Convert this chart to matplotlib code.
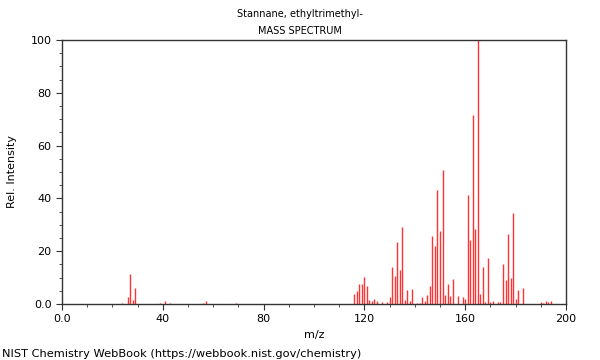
import matplotlib
matplotlib.use("Agg")
import matplotlib.pyplot as plt
from matplotlib.ticker import MultipleLocator, FuncFormatter

# peak list (m/z, relative intensity)
mz = [24, 26, 27, 28, 29, 39, 41, 43, 56, 57, 69,
      116, 117, 118, 119, 120, 121, 122, 123, 124, 125, 127, 129, 130,
      131, 132, 133, 134, 135, 136, 137, 138, 139, 141, 142, 143, 144,
      145, 146, 147, 148, 149, 150, 151, 152, 153, 154, 155, 157, 159,
      160, 161, 162, 163, 164, 165, 166, 167, 168, 169, 170, 171, 173,
      174, 175, 176, 177, 178, 179, 180, 181, 183, 190, 191, 192, 193, 194]
intensity = [0.3, 2.8, 11.2, 1.6, 6.0, 0.5, 1.0, 0.3, 0.3, 1.3, 0.5,
             3.7, 4.9, 7.7, 7.5, 10.2, 6.7, 1.5, 1.2, 1.7, 1.3, 0.8, 0.8, 2.8,
             14.1, 10.6, 23.5, 13.0, 29.3, 1.5, 5.3, 1.0, 5.6, 0.5, 0.5, 2.5, 1.2,
             3.5, 6.8, 25.8, 22.0, 43.0, 27.6, 50.8, 3.4, 7.7, 3.2, 9.3, 3.0, 2.5,
             1.8, 41.3, 24.2, 71.6, 28.4, 100.0, 3.7, 14.1, 0.8, 17.4, 0.6, 1.0, 0.8,
             0.6, 15.1, 9.2, 26.5, 10.0, 34.5, 1.7, 5.3, 6.2, 0.6, 0.5, 1.0, 0.7, 1.2]

title = "Stannane, ethyltrimethyl-"
subtitle = "MASS SPECTRUM"
footer = "NIST Chemistry WebBook (https://webbook.nist.gov/chemistry)"

fig = plt.figure(figsize=(6, 3.6), dpi=100)
ax = fig.add_axes([0.1033, 0.1556, 0.84, 0.7333])

ax.vlines(mz, 0, intensity, colors="#ff3333", linewidth=1.0)

ax.set_xlim(0, 200)
ax.set_ylim(0, 100)
ax.xaxis.set_major_locator(MultipleLocator(40))
ax.xaxis.set_minor_locator(MultipleLocator(10))
ax.yaxis.set_major_locator(MultipleLocator(20))
ax.yaxis.set_minor_locator(MultipleLocator(5))
fmt = FuncFormatter(lambda v, p: "0.0" if v == 0 else f"{v:.0f}")
ax.xaxis.set_major_formatter(fmt)
ax.yaxis.set_major_formatter(fmt)
ax.tick_params(labelsize=8, length=4, color="#333333")
ax.tick_params(which="minor", length=2, color="#333333")
for s in ax.spines.values():
    s.set_color("#333333")
    s.set_linewidth(1.0)

ax.set_xlabel("m/z", fontsize=8)
ax.set_ylabel("Rel. Intensity", fontsize=8, labelpad=10)

fig.text(0.5, 0.962, title, ha="center", va="center", fontsize=7)
fig.text(0.5, 0.915, subtitle, ha="center", va="center", fontsize=7)
fig.text(0.004, 0.018, footer, ha="left", va="center", fontsize=8.2)

fig.savefig("out.png", dpi=100)
